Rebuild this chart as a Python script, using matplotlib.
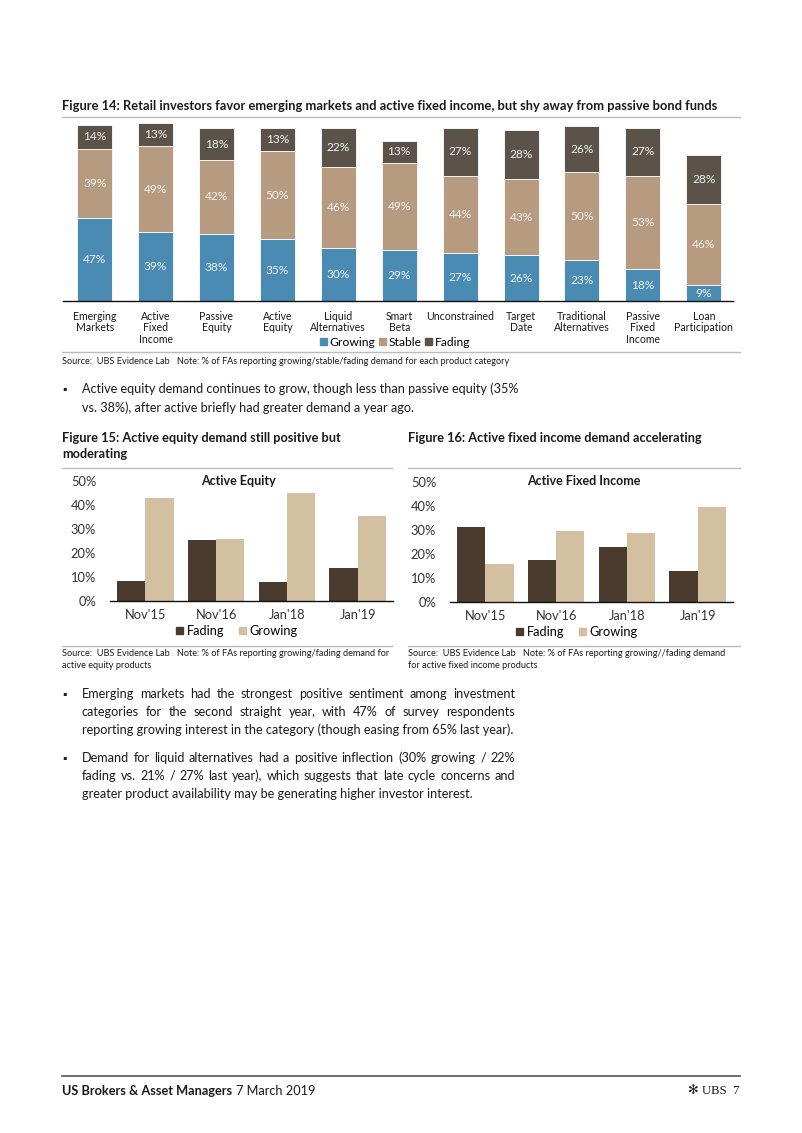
import matplotlib
matplotlib.use("Agg")
import matplotlib.pyplot as plt
from matplotlib.lines import Line2D
from matplotlib.patches import Patch
import numpy as np

plt.rcParams['font.family'] = ['Lato', 'DejaVu Sans']

W, H = 802, 1133

# ---------------- data ----------------
categories = ['Emerging\nMarkets', 'Active\nFixed\nIncome', 'Passive\nEquity', 'Active\nEquity',
              'Liquid\nAlternatives', 'Smart\nBeta', 'Unconstrained', 'Target\nDate',
              'Traditional\nAlternatives', 'Passive\nFixed\nIncome', 'Loan\nParticipation']
growing = [47, 39, 38, 35, 30, 29, 27, 26, 23, 18, 9]
stable = [39, 49, 42, 50, 46, 49, 44, 43, 50, 53, 46]
fading = [14, 13, 18, 13, 22, 13, 27, 28, 26, 27, 28]

periods = ["Nov'15", "Nov'16", "Jan'18", "Jan'19"]
eq_fading = [8.5, 25.4, 7.8, 13.7]
eq_growing = [43.0, 25.9, 45.1, 35.6]
fi_fading = [31.2, 17.3, 22.7, 12.8]
fi_growing = [15.9, 29.7, 28.7, 39.4]
pct_ticks = [0, 10, 20, 30, 40, 50]
pct_labels = ['0%', '10%', '20%', '30%', '40%', '50%']

C_GROW = '#4A8BB3'
C_STAB = '#B69B81'
C_FADE = '#5B524A'
C_DFADE = '#4B3A2E'
C_DGROW = '#D3C0A0'
TXT = '#1a1a1a'

fig = plt.figure(figsize=(W / 100, H / 100), dpi=100)


def fx(x):
    return x / W


def fy(y):
    return 1 - y / H


def axes_px(x0, y0, x1, y1):
    return fig.add_axes([fx(x0), fy(y1), (x1 - x0) / W, (y1 - y0) / H])


def hline(x0, x1, y, color='#BBBBBB', lw=1.0):
    fig.add_artist(Line2D([fx(x0), fx(x1)], [fy(y), fy(y)], color=color, lw=lw,
                          transform=fig.transFigure))


def text(x, y, s, **kw):
    kw.setdefault('va', 'center')
    kw.setdefault('color', TXT)
    return fig.text(fx(x), fy(y), s, **kw)


renderer = fig.canvas.get_renderer()


def justify(x0, x1, y, line, size, last=False):
    words = line.split(' ')
    if last:
        text(x0, y, line, fontsize=size)
        return
    widths = []
    for w in words:
        t = text(0, 0, w, fontsize=size)
        bb = t.get_window_extent(renderer)
        widths.append(bb.width)
        t.remove()
    gap = (x1 - x0 - sum(widths)) / max(len(words) - 1, 1)
    x = x0
    for w, wd in zip(words, widths):
        text(x, y, w, fontsize=size)
        x += wd + gap


BODY = 9.1
SRC = 6.6

# ---------------- Figure 14 ----------------
text(62, 106, 'Figure 14: Retail investors favor emerging markets and active fixed income, but shy away from passive bond funds',
     fontsize=9.25, fontweight='bold')
hline(62, 740, 117)

ax = axes_px(63, 122, 733, 301)
x = np.arange(len(categories))
bw = 0.575
g = np.array(growing)
s = np.array(stable)
f = np.array(fading)
ax.bar(x, g, bw, color=C_GROW, edgecolor='white', linewidth=0.6, label='Growing')
ax.bar(x, s, bw, bottom=g, color=C_STAB, edgecolor='white', linewidth=0.6, label='Stable')
ax.bar(x, f, bw, bottom=g + s, color=C_FADE, edgecolor='white', linewidth=0.6, label='Fading')
for i in range(len(categories)):
    for base, v in ((0, g[i]), (g[i], s[i]), (g[i] + s[i], f[i])):
        ax.text(x[i], base + v / 2, f'{v}%', ha='center', va='center', color='#F2F2F2', fontsize=8.6)
ax.set_xlim(-0.52, 10.48)
ax.set_ylim(0, 101.5)
ax.set_xticks(x)
ax.set_xticklabels(categories, fontsize=7.6, color=TXT, linespacing=1.05, va='top')
ax.tick_params(axis='x', length=0, pad=7)
ax.set_yticks([])
for sp in ('top', 'left', 'right'):
    ax.spines[sp].set_visible(False)
ax.spines['bottom'].set_color('#111111')
ax.spines['bottom'].set_linewidth(1.0)
handles = [Patch(color=C_GROW), Patch(color=C_STAB), Patch(color=C_FADE)]
fig.legend(handles, ['Growing', 'Stable', 'Fading'], loc='center', bbox_to_anchor=(fx(395), fy(342)),
           ncol=3, frameon=False, fontsize=8.7, handlelength=0.55, handleheight=0.55,
           handletextpad=0.2, columnspacing=0.35, borderpad=0)
hline(62, 740, 352)
text(62, 361, 'Source:  UBS Evidence Lab   Note: % of FAs reporting growing/stable/fading demand for each product category',
     fontsize=SRC)

# bullet 1
text(62, 389, '\u25aa', fontsize=8)
text(82, 389, 'Active equity demand continues to grow, though less than passive equity (35%', fontsize=BODY)
text(82, 408, 'vs. 38%), after active briefly had greater demand a year ago.', fontsize=BODY)


# ---------------- Figure 15 / 16 ----------------
def small_chart(x0, x1, y0, y1, fad, gro, title, tx):
    a = axes_px(x0, y0, x1, y1)
    xi = np.arange(len(periods))
    a.bar(xi - 0.2, fad, 0.4, color=C_DFADE)
    a.bar(xi + 0.2, gro, 0.4, color=C_DGROW)
    a.set_xlim(-0.5, 3.5)
    a.set_ylim(0, 50)
    a.set_yticks(pct_ticks)
    a.set_yticklabels(pct_labels, fontsize=9.3, color='#333333')
    a.set_xticks(xi)
    a.set_xticklabels(periods, fontsize=9.3, color='#333333')
    a.tick_params(length=0)
    a.tick_params(axis='y', pad=10)
    a.tick_params(axis='x', pad=6)
    for sp in ('top', 'left', 'right'):
        a.spines[sp].set_visible(False)
    a.spines['bottom'].set_color('#111111')
    a.spines['bottom'].set_linewidth(1.0)
    text(tx, 481, title, fontsize=9, fontweight='bold', ha='center')
    return a


text(62, 438, 'Figure 15: Active equity demand still positive but', fontsize=9.2, fontweight='bold')
text(62, 454, 'moderating', fontsize=9.2, fontweight='bold')
hline(62, 392, 468)
small_chart(110, 393, 481.5, 601, eq_fading, eq_growing, 'Active Equity', 238)
fig.legend([Patch(color=C_DFADE), Patch(color=C_DGROW)], ['Fading', 'Growing'], loc='center',
           bbox_to_anchor=(fx(237), fy(631)), ncol=2, frameon=False, fontsize=9.2,
           handlelength=0.55, handleheight=0.55, handletextpad=0.25, columnspacing=1.2, borderpad=0)
hline(62, 392, 646)
text(62, 654, 'Source:  UBS Evidence Lab   Note: % of FAs reporting growing/fading demand for', fontsize=SRC)
text(62, 665, 'active equity products', fontsize=SRC)

text(408, 438, 'Figure 16: Active fixed income demand accelerating', fontsize=9.2, fontweight='bold')
hline(408, 740, 468)
small_chart(450, 733, 481.7, 602, fi_fading, fi_growing, 'Active Fixed Income', 584)
fig.legend([Patch(color=C_DFADE), Patch(color=C_DGROW)], ['Fading', 'Growing'], loc='center',
           bbox_to_anchor=(fx(577), fy(632)), ncol=2, frameon=False, fontsize=9.2,
           handlelength=0.55, handleheight=0.55, handletextpad=0.25, columnspacing=1.2, borderpad=0)
hline(408, 740, 646)
text(408, 654, 'Source:  UBS Evidence Lab   Note: % of FAs reporting growing//fading demand', fontsize=SRC)
text(408, 665, 'for active fixed income products', fontsize=SRC)

# bullets 2 and 3
b2 = ['Emerging markets had the strongest positive sentiment among investment',
      'categories for the second straight year, with 47% of survey respondents',
      'reporting growing interest in the category (though easing from 65% last year).']
b3 = ['Demand for liquid alternatives had a positive inflection (30% growing / 22%',
      'fading vs. 21% / 27% last year), which suggests that late cycle concerns and',
      'greater product availability may be generating higher investor interest.']
text(62, 694, '\u25aa', fontsize=8)
for i, ln in enumerate(b2):
    justify(82, 515, 694 + 18 * i, ln, BODY, last=(i == len(b2) - 1))
text(62, 758, '\u25aa', fontsize=8)
for i, ln in enumerate(b3):
    justify(82, 515, 758 + 18 * i, ln, BODY, last=(i == len(b3) - 1))

# footer
hline(62, 740, 1076, color='#555555', lw=1.2)
text(62, 1091, 'US Brokers & Asset Managers', fontsize=9.2, fontweight='bold')
text(236, 1091, '7 March 2019', fontsize=9.2)
text(740, 1091, '\u273b UBS  7', fontsize=9.2, ha='right', family=['Liberation Serif', 'DejaVu Sans'])

fig.savefig('out.png', dpi=100)
